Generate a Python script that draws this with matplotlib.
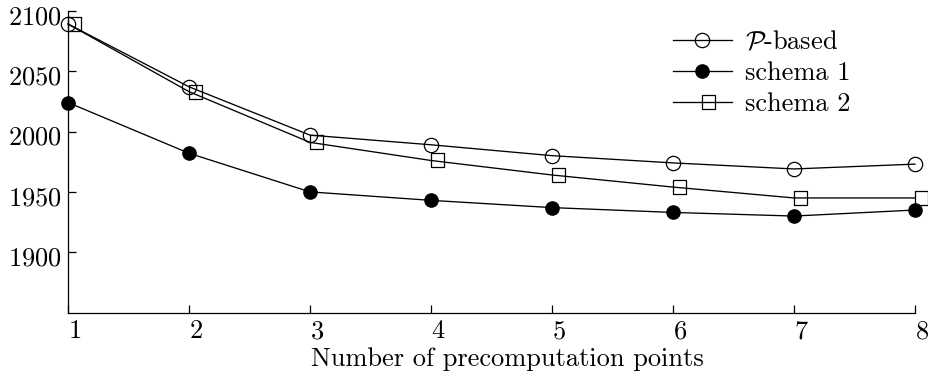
import matplotlib
matplotlib.use("Agg")
import matplotlib.pyplot as plt
import matplotlib.transforms as mtransforms
from matplotlib.path import Path

plt.rcParams["font.family"] = "cmr10"
plt.rcParams["mathtext.fontset"] = "cm"
plt.rcParams["axes.formatter.use_mathtext"] = True

# データ
points = [1, 2, 3, 4, 5, 6, 7, 8]
p_based = [2089, 2037, 1997, 1989, 1980, 1974, 1969, 1973]
schema1 = [2024, 1982, 1950, 1943, 1937, 1933, 1930, 1935]
schema2 = [2089, 2033, 1991, 1976, 1964, 1954, 1945, 1945]
y_ticks = [1900, 1950, 2000, 2050, 2100]

# 左端がデータ点に来る四角マーカー
sq_path = Path(
    [(0, -0.5), (1, -0.5), (1, 0.5), (0, 0.5), (0, -0.5)],
    [Path.MOVETO, Path.LINETO, Path.LINETO, Path.LINETO, Path.CLOSEPOLY],
)

fs = 19
fig = plt.figure(figsize=(9.29, 3.83), dpi=100)
ax = fig.add_axes([68 / 929, 70.3 / 383, 847 / 929, 302 / 383])

lw = 0.95
ax.plot(points, p_based, color="black", lw=lw, marker="o", ms=10.3,
        mfc="none", mec="black", mew=0.9, label=r"$\mathcal{P}$-based", clip_on=False)
ax.plot(points, schema1, color="black", lw=lw, marker="o", ms=9.6,
        mfc="black", mec="black", mew=0.9, label="schema 1", clip_on=False)
ax.plot(points, schema2, color="black", lw=lw, marker=sq_path, ms=19.4,
        mfc="none", mec="black", mew=0.9, label="schema 2", clip_on=False)

ax.set_xlim(1, 8)
ax.set_ylim(1850, 2100)
ax.set_xticks(points)
ax.set_yticks(y_ticks)

for s in ["top", "right"]:
    ax.spines[s].set_visible(False)
for s in ["left", "bottom"]:
    ax.spines[s].set_linewidth(0.9)

ax.tick_params(axis="both", direction="in", length=6, width=0.9, labelsize=fs)
ax.tick_params(axis="y", pad=4.5)
ax.tick_params(axis="x", pad=5)

# ラベルを少しずらす
off_y = mtransforms.ScaledTranslation(0, -4 / 100, fig.dpi_scale_trans)
for lab in ax.get_yticklabels():
    lab.set_transform(lab.get_transform() + off_y)
for lab in ax.get_xticklabels():
    lab.set_horizontalalignment("left")

ax.set_xlabel("Number of precomputation points", fontsize=fs)
ax.xaxis.set_label_coords(0.519, -0.115)

ax.legend(loc="upper left", bbox_to_anchor=(0.714, 0.935), frameon=False,
          fontsize=fs, handlelength=2.25, handletextpad=0.5, labelspacing=0.27,
          borderpad=0, borderaxespad=0, numpoints=1)

fig.savefig("out.png", dpi=100)
